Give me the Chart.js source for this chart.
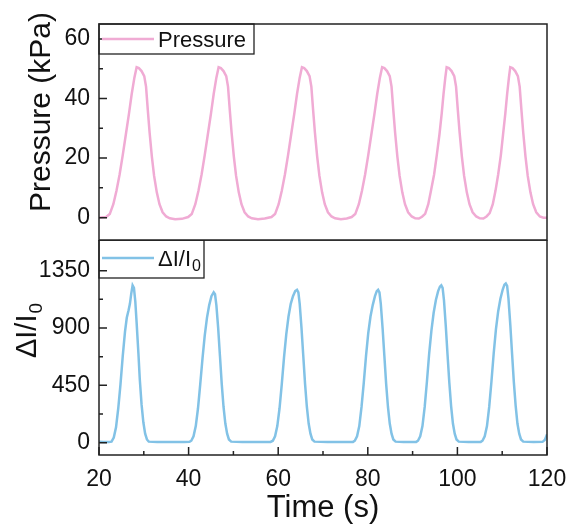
<!DOCTYPE html>
<html><head><meta charset="utf-8">
<script src="https://cdn.jsdelivr.net/npm/chart.js@4.4.1/dist/chart.umd.min.js"></script>
<style>
html,body{margin:0;padding:0;background:#fff;width:571px;height:529px;overflow:hidden}
.box{position:absolute;left:0;width:571px}
</style></head><body>
<div class="box" style="top:0;height:241px"><canvas id="c1"></canvas></div>
<div class="box" style="top:240px;height:289px"><canvas id="c2"></canvas></div>
<script>
// ---------- data ----------
const xTicks = [20, 40, 60, 80, 100, 120];
const xMinorTicks = [30, 50, 70, 90, 110];
const pressureTicks = [0, 20, 40, 60];
const pressureMinorTicks = [10, 30, 50];
const currentTicks = [0, 450, 900, 1350];
const currentMinorTicks = [225, 675, 1125];

const pressureTime = [20,20.8,
 21.6,22.4,23.2,23.9,24.6,25.3,26.0,26.7,27.3,27.9,28.4,28.9,29.5,30.1,30.5,30.9,31.3,31.8,32.3,32.9,33.5,34.2,35.0,35.8,37.0,38.5,
 39.9,40.7,41.5,42.2,42.9,43.6,44.3,45.0,45.6,46.2,46.7,47.2,47.8,48.4,48.8,49.2,49.6,50.1,50.6,51.2,51.8,52.5,53.3,54.1,55.5,57.0,
 58.5,59.3,60.1,60.8,61.5,62.2,62.9,63.6,64.2,64.8,65.3,65.8,66.4,67.0,67.4,67.8,68.2,68.7,69.2,69.8,70.4,71.1,71.9,72.7,74.0,75.3,
 76.4,77.2,78.0,78.7,79.4,80.1,80.8,81.5,82.1,82.7,83.2,83.7,84.3,84.9,85.3,85.7,86.1,86.6,87.1,87.7,88.3,89.0,89.8,90.6,91.4,
 92.1,92.8,93.5,94.1,94.8,95.4,96.0,96.5,96.9,97.3,97.6,98.1,98.7,99.3,99.7,100.1,100.5,101.0,101.5,102.1,102.7,103.4,104.2,105.0,105.8,
 106.5,107.2,107.9,108.5,109.1,109.7,110.2,110.7,111.1,111.5,111.8,112.3,112.9,113.5,113.9,114.3,114.7,115.2,115.7,116.3,116.9,117.6,118.4,119.2,120];
const pressureValue = [0,0.1,
 0.2,1.2,4.5,9,14.5,21,28,35,41.5,47,50.5,50.2,49.2,47.5,44,36,28.5,20.5,14,8.5,4.5,1.8,0.4,-0.2,-0.5,-0.4,
 0.2,1.2,4.5,9,14.5,21,28,35,41.5,47,50.5,50.2,49.2,47.5,44,36,28.5,20.5,14,8.5,4.5,1.8,0.4,-0.2,-0.5,-0.3,
 0.2,1.2,4.5,9,14.5,21,28,35,41.5,47,50.5,50.2,49.2,47.5,44,36,28.5,20.5,14,8.5,4.5,1.8,0.4,-0.2,-0.5,-0.3,
 0.2,1.2,4.5,9,14.5,21,28,35,41.5,47,50.5,50.2,49.2,47.5,44,36,28.5,20.5,14,8.5,4.5,1.8,0.4,-0.2,-0.3,
 0.3,1.3,4.5,9,14.5,21,28,35,41.5,47,50.5,50.2,49.2,47.5,44,36,28.5,20.5,14,8.5,4.5,1.8,0.4,-0.2,-0.3,
 0.4,1.5,4.5,9,14.5,21,28,35,41.5,47,50.5,50.2,49.2,47.5,44,36,28.5,20.5,14,8.5,4.5,1.8,0.4,0,0];

const currentTime = [20,21,22.2,
 22.8,23.3,23.8,24.3,24.8,25.3,25.8,26.2,26.6,26.9,27.2,27.5,27.8,28.1,28.4,28.8,29.1,29.5,29.9,30.3,30.7,31.1,33,36,39,40.2,
 40.6,41.1,41.6,42.1,42.6,43.1,43.6,44.1,44.6,45.1,45.6,45.9,46.2,46.6,47.0,47.4,47.8,48.2,48.6,49.0,49.5,52,55,58.3,
 58.8,59.3,59.8,60.3,60.8,61.3,61.8,62.3,62.8,63.3,63.8,64.2,64.5,64.8,65.2,65.6,66.0,66.4,66.8,67.2,67.6,68.1,71,74,76.7,
 77.1,77.6,78.1,78.6,79.1,79.6,80.1,80.6,81.1,81.6,82.0,82.3,82.6,82.9,83.3,83.7,84.1,84.5,84.9,85.3,85.7,86.2,88,90.8,
 91.2,91.7,92.2,92.7,93.2,93.7,94.2,94.7,95.2,95.7,96.1,96.4,96.7,97.0,97.4,97.8,98.2,98.6,99.0,99.4,99.8,100.3,102.5,105.2,
 105.6,106.1,106.6,107.1,107.6,108.1,108.6,109.1,109.6,110.1,110.5,110.8,111.1,111.4,111.8,112.2,112.6,113.0,113.4,113.8,114.2,114.7,117,119,119.5,120];
const currentValue = [8,5,5,
 8,40,120,270,460,680,870,980,1040,1090,1170,1235,1215,1110,940,700,500,300,160,70,25,8,5,5,5,6,
 15,50,130,270,460,660,840,980,1080,1150,1180,1165,1080,900,680,460,280,150,70,25,8,5,5,6,
 15,50,130,270,460,670,850,990,1090,1150,1190,1200,1180,1090,900,680,460,280,150,70,25,8,5,5,6,
 15,50,130,280,470,680,860,990,1080,1150,1190,1200,1180,1090,900,680,460,280,150,70,25,8,5,6,
 15,50,130,280,480,700,880,1020,1120,1190,1225,1235,1215,1120,920,690,470,285,150,70,25,8,5,6,
 15,50,130,280,480,700,890,1030,1130,1200,1240,1250,1230,1130,930,700,475,290,150,70,25,8,5,6,20,65];

// ---------- styling ----------
const FONT = '"Liberation Sans", Arial, sans-serif';
const PINK = '#f0abd4';
const BLUE = '#82c2e6';
const INK = '#111';
Chart.defaults.font.family = FONT;
Chart.defaults.color = INK;

function pts(xs, ys){ return xs.map((x,i)=>({x:x, y:ys[i]})); }

function framePlugin(opts){
  return {
    id: 'frame' + opts.id,
    afterDraw(chart){
      const ctx = chart.ctx, a = chart.chartArea;
      const xs = chart.scales.x, ys = chart.scales.y;
      ctx.save();
      ctx.strokeStyle = '#222';
      ctx.lineWidth = 1.5;
      ctx.strokeRect(a.left, a.top, a.right - a.left, a.bottom - a.top);
      ctx.beginPath();
      opts.yMajor.forEach(v=>{ const p = ys.getPixelForValue(v); ctx.moveTo(a.left, p); ctx.lineTo(a.left + 8, p); });
      opts.yMinor.forEach(v=>{ const p = ys.getPixelForValue(v); ctx.moveTo(a.left, p); ctx.lineTo(a.left + 4, p); });
      if (opts.xTicks) {
        xTicks.forEach(v=>{ const p = xs.getPixelForValue(v); ctx.moveTo(p, a.bottom); ctx.lineTo(p, a.bottom - 8); });
        xMinorTicks.forEach(v=>{ const p = xs.getPixelForValue(v); ctx.moveTo(p, a.bottom); ctx.lineTo(p, a.bottom - 4); });
      }
      ctx.stroke();
      const L = opts.legend;
      ctx.strokeStyle = '#222';
      ctx.lineWidth = 1.3;
      ctx.strokeRect(a.left, a.top, L.w, L.h);
      ctx.strokeStyle = L.color;
      ctx.lineWidth = 2.5;
      ctx.beginPath();
      ctx.moveTo(a.left + 3, a.top + L.lineY);
      ctx.lineTo(a.left + 55, a.top + L.lineY);
      ctx.stroke();
      ctx.fillStyle = INK;
      ctx.textAlign = 'left';
      ctx.textBaseline = 'alphabetic';
      ctx.font = '22px ' + FONT;
      ctx.fillText(L.text, a.left + 59, a.top + L.base);
      if (L.sub) {
        const w = ctx.measureText(L.text).width;
        ctx.font = '16px ' + FONT;
        ctx.fillText(L.sub, a.left + 59 + w + 1, a.top + L.base + 5);
      }
      const T = opts.title;
      ctx.save();
      ctx.translate(T.x, T.y);
      ctx.rotate(-Math.PI / 2);
      ctx.font = T.size + 'px ' + FONT;
      const w1 = ctx.measureText(T.text).width;
      let w2 = 0;
      if (T.sub) { ctx.font = T.subSize + 'px ' + FONT; w2 = ctx.measureText(T.sub).width; }
      const start = -(w1 + w2) / 2;
      ctx.font = T.size + 'px ' + FONT;
      ctx.textAlign = 'left';
      ctx.fillText(T.text, start, 0);
      if (T.sub) { ctx.font = T.subSize + 'px ' + FONT; ctx.fillText(T.sub, start + w1 + 1, 6); }
      ctx.restore();
      ctx.restore();
    }
  };
}

function setTicks(list){ return s => { s.ticks = list.map(v=>({value:v})); }; }
function fitY(s){ s.width = 99; s.paddingTop = 0; s.paddingBottom = 0; }
function plain(v){ return String(v); }

new Chart(document.getElementById('c1'), {
  type: 'line',
  data: { datasets: [{ label: 'Pressure', data: pts(pressureTime, pressureValue), borderColor: PINK, borderWidth: 2.5, pointRadius: 0, tension: 0, fill: false }] },
  options: {
    responsive: true, maintainAspectRatio: false, animation: false, devicePixelRatio: 1,
    layout: { padding: { top: 24, right: 24, bottom: 1, left: 0 } },
    plugins: { legend: { display: false }, tooltip: { enabled: false } },
    scales: {
      x: { type: 'linear', min: 20, max: 120, display: false },
      y: { type: 'linear', min: -7.5, max: 65, afterBuildTicks: setTicks(pressureTicks), afterFit: fitY,
           grid: { display: false, drawTicks: false }, border: { display: false },
           ticks: { font: { size: 23 }, color: INK, padding: 9, callback: plain } }
    }
  },
  plugins: [framePlugin({ id: 1, yMajor: pressureTicks, yMinor: pressureMinorTicks, xTicks: false,
    legend: { w: 155, h: 30, lineY: 15, base: 23, text: 'Pressure', color: PINK },
    title: { x: 50, y: 112, size: 30, text: 'Pressure (kPa)' } })]
});

new Chart(document.getElementById('c2'), {
  type: 'line',
  data: { datasets: [{ label: 'ΔI/I0', data: pts(currentTime, currentValue), borderColor: BLUE, borderWidth: 2.5, pointRadius: 0, tension: 0, fill: false }] },
  options: {
    responsive: true, maintainAspectRatio: false, animation: false, devicePixelRatio: 1,
    layout: { padding: { top: 0, right: 24, bottom: 0, left: 0 } },
    plugins: { legend: { display: false }, tooltip: { enabled: false } },
    scales: {
      x: { type: 'linear', min: 20, max: 120, afterBuildTicks: setTicks(xTicks),
           afterFit: s => { s.height = 74; s.paddingLeft = 0; s.paddingRight = 0; },
           grid: { display: false, drawTicks: false }, border: { display: false },
           ticks: { font: { size: 23 }, color: INK, padding: 11, maxRotation: 0, callback: plain },
           title: { display: true, text: 'Time (s)', font: { size: 31 }, color: INK, padding: { top: 0, bottom: 2 } } },
      y: { type: 'linear', min: -97, max: 1591, afterBuildTicks: setTicks(currentTicks), afterFit: fitY,
           grid: { display: false, drawTicks: false }, border: { display: false },
           ticks: { font: { size: 23 }, color: INK, padding: 9, callback: plain } }
    }
  },
  plugins: [framePlugin({ id: 2, yMajor: currentTicks, yMinor: currentMinorTicks, xTicks: true,
    legend: { w: 105, h: 38, lineY: 18, base: 26, text: 'ΔI/I', sub: '0', color: BLUE },
    title: { x: 36, y: 91, size: 29, subSize: 19, text: 'ΔI/I', sub: '0' } })]
});
</script>
</body></html>
